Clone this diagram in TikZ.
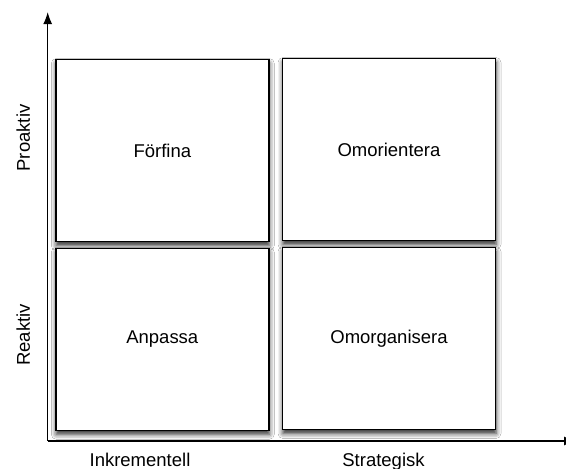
\documentclass[tikz,border=0pt]{standalone}
\usepackage{fontspec}
\setmainfont{Liberation Sans}
\usetikzlibrary{arrows.meta,shadows.blur}
\begin{document}
\begin{tikzpicture}[x=1pt,y=-1pt,
  quad/.style={draw=black, line width=1.5pt, fill=white, minimum width=213pt, minimum height=182pt,
    inner sep=0pt, font=\fontsize{18.5pt}{22pt}\selectfont,
    blur shadow={shadow xshift=0.5pt, shadow yshift=-4pt, shadow blur radius=5pt, shadow opacity=85}},
  axis/.style={line width=1.5pt, -{Latex[length=12pt,width=9pt]}},
  lab/.style={font=\fontsize{18.5pt}{22pt}\selectfont, inner sep=0pt, anchor=base}]
\useasboundingbox (0,0) rectangle (566,469);
\clip (0,0) rectangle (566,469);
\fill[white] (0,0) rectangle (566,469);
\coordinate (O) at (47.7,441);
\coordinate (Ytip) at (47.7,12);
\coordinate (Xtip) at (576,441);
\node[quad] (ff) at (162.3,150.5) {Förfina};
\node[quad] (om) at (389,149.5) {Omorientera};
\node[quad] (an) at (162.3,339.3) {Anpassa};
\node[quad] (og) at (389,338.5) {Omorganisera};
\draw[axis] (O) -- (Ytip);
\draw[axis] (O) -- (Xtip);
\node[lab] (ink) at (140,466) {Inkrementell};
\node[lab] (str) at (383.5,466.5) {Strategisk};
\node[lab, rotate=90] (pro) at (30,138) {Proaktiv};
\node[lab, rotate=90] (rea) at (30,335) {Reaktiv};
\end{tikzpicture}
\end{document}
